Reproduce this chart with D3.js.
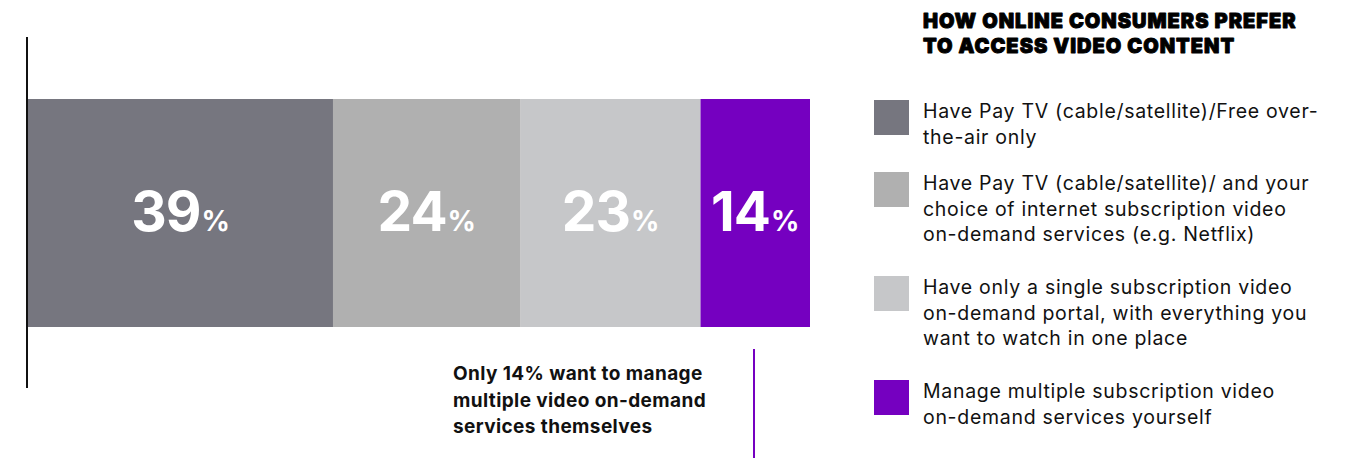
<!DOCTYPE html>
<html>
<head>
<meta charset="utf-8">
<script src="https://cdn.jsdelivr.net/npm/d3@7"></script>
<style>
  html, body { margin: 0; padding: 0; background: #fff; }
  svg { display: block; }
</style>
</head>
<body>
<svg id="chart" width="1356" height="458"></svg>
<script>
// Share of online consumers by preferred way of accessing video content
const categories = [
  "Have Pay TV (cable/satellite)/Free over-the-air only",
  "Have Pay TV (cable/satellite)/ and your choice of internet subscription video on-demand services (e.g. Netflix)",
  "Have only a single subscription video on-demand portal, with everything you want to watch in one place",
  "Manage multiple subscription video on-demand services yourself"
];
const shares = [39, 24, 23, 14];
const legendLines = [
  ["Have Pay TV (cable/satellite)/Free over-", "the-air only"],
  ["Have Pay TV (cable/satellite)/ and your", "choice of internet subscription video", "on-demand services (e.g. Netflix)"],
  ["Have only a single subscription video", "on-demand portal, with everything you", "want to watch in one place"],
  ["Manage multiple subscription video", "on-demand services yourself"]
];
const colors = ["#76767f", "#b0b0b0", "#c6c7c9", "#7500c0"];
const titleLines = ["HOW ONLINE CONSUMERS PREFER", "TO ACCESS VIDEO CONTENT"];
const calloutLines = ["Only 14% want to manage", "multiple video on-demand", "services themselves"];

const svg = d3.select("#chart");
const font = "Inter, 'Liberation Sans', Arial, sans-serif";

// Stacked layout
const stacked = [];
let acc = 0;
shares.forEach((v, i) => { stacked.push({ i, v, x0: acc, x1: acc + v }); acc += v; });

const x = d3.scaleLinear().domain([0, 100]).range([28, 810]);
const y = d3.scaleBand().domain(["all"]).range([99, 327]).padding(0);
const color = d3.scaleOrdinal().domain(categories).range(colors);

// Baseline rule on the left
svg.append("line")
  .attr("x1", 27).attr("x2", 27)
  .attr("y1", 37).attr("y2", 388)
  .attr("stroke", "#111").attr("stroke-width", 2);

// Bar segments
svg.append("g").selectAll("rect")
  .data(stacked)
  .join("rect")
  .attr("x", d => x(d.x0))
  .attr("y", y("all"))
  .attr("width", d => x(d.x1) - x(d.x0))
  .attr("height", y.bandwidth())
  .attr("fill", d => color(categories[d.i]));

// Value labels
const labels = svg.append("g").selectAll("text")
  .data(stacked)
  .join("text")
  .attr("x", d => (x(d.x0) + x(d.x1)) / 2)
  .attr("y", y("all") + y.bandwidth() / 2 + 18)
  .attr("text-anchor", "middle")
  .attr("fill", "#fff")
  .attr("font-family", font)
  .attr("font-weight", 700);
labels.append("tspan").attr("font-size", 55).attr("letter-spacing", -1).text(d => d.v);
labels.append("tspan").attr("font-size", 28).attr("dx", 1).text("%");

// Callout for the smallest segment
svg.append("line")
  .attr("x1", 754).attr("x2", 754)
  .attr("y1", 349).attr("y2", 458)
  .attr("stroke", "#7500c0").attr("stroke-width", 2);

svg.append("g").selectAll("text")
  .data(calloutLines)
  .join("text")
  .attr("x", 453)
  .attr("y", (d, i) => 380 + i * 26.5)
  .attr("font-family", font)
  .attr("font-weight", 700)
  .attr("font-size", 19)
  .attr("letter-spacing", 0.4)
  .attr("fill", "#111")
  .text(d => d);

// Legend title
svg.append("g").selectAll("text")
  .data(titleLines)
  .join("text")
  .attr("x", 923)
  .attr("y", (d, i) => 28 + i * 25)
  .attr("font-family", font)
  .attr("font-weight", 900)
  .attr("font-size", 20)
  .attr("letter-spacing", 1.0)
  .attr("fill", "#000")
  .attr("stroke", "#000")
  .attr("stroke-width", 0.9)
  .attr("stroke-linejoin", "round")
  .text(d => d);

// Legend entries
let offset = 100;
const legendData = legendLines.map((lines, i) => {
  const item = { i, lines, top: offset };
  offset += lines.length * 32 + 8;
  return item;
});

const items = svg.append("g").selectAll("g")
  .data(legendData)
  .join("g")
  .attr("transform", d => `translate(0,${d.top})`);

items.append("rect")
  .attr("x", 874).attr("y", 0)
  .attr("width", 35).attr("height", 35)
  .attr("fill", d => color(categories[d.i]));

items.selectAll("text")
  .data(d => d.lines)
  .join("text")
  .attr("x", 923)
  .attr("y", (d, j) => 18 + j * 25.5)
  .attr("font-family", font)
  .attr("font-size", 19.5)
  .attr("letter-spacing", 0.7)
  .attr("fill", "#111")
  .text(d => d);
</script>
</body>
</html>
